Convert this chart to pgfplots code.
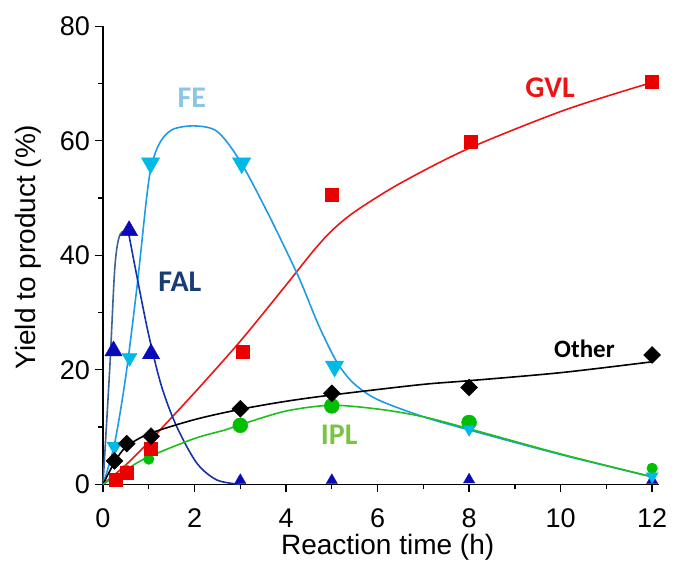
\documentclass[border=0pt]{standalone}
\usepackage{fontspec}
\setmainfont{Liberation Sans}
\newfontfamily\carl{Carlito}
\usepackage{pgfplots}
\pgfplotsset{compat=1.18}
\definecolor{gvl}{RGB}{238,20,20}
\definecolor{gvlmark}{RGB}{235,0,0}
\definecolor{fecurve}{RGB}{30,155,230}
\definecolor{femark}{RGB}{0,185,228}
\definecolor{felab}{RGB}{140,198,228}
\definecolor{falmark}{RGB}{10,10,185}
\definecolor{falcurve}{RGB}{20,50,170}
\definecolor{falrise}{RGB}{60,100,150}
\definecolor{fallab}{RGB}{25,60,115}
\definecolor{iplmark}{RGB}{0,190,0}
\definecolor{iplcurve}{RGB}{30,190,30}
\definecolor{ipllab}{RGB}{125,194,66}
\begin{document}
\begin{tikzpicture}
\path[use as bounding box] (-103pt,-86.7pt) rectangle (573pt,484.3pt);
\begin{axis}[
 scale only axis, width=556pt, height=458pt,
 xmin=0, xmax=12.15, ymin=0, ymax=80,
 axis x line=bottom, axis y line=left,
 axis line style={-, line width=1.3pt},
 xtick={0,2,...,12}, ytick={0,20,...,80},
 minor xtick={1,3,...,11}, minor ytick={10,30,50,70},
 tick align=outside,
 major tick length=8pt, minor tick length=5pt,
 every tick/.style={black, line width=1.3pt},
 tick label style={font=\fontsize{27}{30}\selectfont, inner sep=0pt},
 /pgf/number format/assume math mode=true,
 xticklabel style={anchor=base, yshift=-35pt},
 yticklabel style={anchor=east, xshift=-5pt},
 label style={font=\fontsize{28}{32}\selectfont, inner sep=0pt},
 xlabel={Reaction time (h)}, ylabel={Yield to product (\%)},
 xlabel style={at={(axis description cs:0.512,-0.137)}, anchor=center},
 ylabel style={at={(axis description cs:-0.135,0.518)}, anchor=center, rotate=0},
 clip=false,
]
% fitted curves
\addplot[gvl, line width=1.6pt, smooth] coordinates {(0,0)(0.5,3.4)(1,7.4)(2,16)(3,25)(4,34.8)(4.6,40.8)(5,44.3)(5.5,47.6)(6.5,52.6)(8,58.7)(10.1,65.4)(12,70.2)};
\addplot[fecurve, line width=1.6pt, smooth] coordinates {(0,0)(0.25,7)(0.5,19)(0.75,35)(1,53)(1.2,59)(1.5,61.9)(2,62.6)(2.5,61.6)(3,56.4)(3.6,47.4)(4.27,36.3)(4.7,28)(5.1,21.5)(5.47,17.7)(6,14.8)(7,11.8)(8,9.5)(10,5.2)(12,1.3)};
\addplot[falrise, line width=1.6pt, smooth] coordinates {(0,0)(0.15,20.6)(0.26,38)(0.37,43.6)(0.55,44.3)};
\addplot[falcurve, line width=1.6pt, smooth] coordinates {(0.55,44.3)(0.70,38)(0.99,26.4)(1.28,17.1)(1.61,10.1)(2.05,3.7)(2.49,0.75)(3,0)};
\addplot[black, line width=1.6pt, smooth] coordinates {(0,0)(0.25,3.8)(0.5,6.5)(1,8.8)(2,11.3)(3,13.1)(4,14.5)(5,15.6)(6.93,17.4)(8,18.1)(10,19.5)(12,21.4)};
\addplot[iplcurve, line width=1.6pt, smooth] coordinates {(0,0)(0.55,2.8)(1,4.8)(2,8)(2.67,9.5)(3,10.4)(4,12.8)(5,13.8)(6.05,13.1)(7,11.8)(8,9.7)(10,5.3)(12,1.3)};
% IPL markers
\addplot[only marks, mark=*, mark size=5.3pt, color=iplmark] coordinates {(0.25,1.0)(0.5,2.5)(1,4.4)(12,2.8)};
\addplot[only marks, mark=*, mark size=7.5pt, color=iplmark] coordinates {(3,10.3)(5,13.7)(8,10.8)};
% GVL markers
\addplot[only marks, mark=square*, mark size=6.5pt, color=gvlmark] coordinates {(0.28,0.8)(0.52,2.0)(1.05,6.3)(3.05,23.2)(5,50.5)(8.04,59.9)(12,70.4)};
% FAL markers
\addplot[only marks, mark=triangle*, mark size=10pt, color=falmark] coordinates {(0.23,23.3)(0.57,44.3)(1.05,22.8)};
\addplot[only marks, mark=triangle*, mark size=6.5pt, color=falmark] coordinates {(3,0.7)(5,0.7)(8,0.8)(12,0.7)};
% FE markers
\addplot[only marks, mark=triangle*, mark size=8.6pt, color=femark, mark options={rotate=180}] coordinates {(0.25,6.6)(0.58,22.1)};
\addplot[only marks, mark=triangle*, mark size=10.6pt, color=femark, mark options={rotate=180}] coordinates {(1.04,56.1)(3.03,56.1)(5.06,20.6)};
\addplot[only marks, mark=triangle*, mark size=7pt, color=femark, mark options={rotate=180}] coordinates {(8,9.6)(12,1.4)};
% Other markers
\addplot[only marks, mark=square*, mark size=6pt, color=black, mark options={rotate=45}] coordinates {(0.25,4.1)(0.52,7.1)(1.05,8.4)(3,13.2)(5,15.9)(8,16.9)(12,22.6)};
% labels
\node[felab] at (axis cs:1.94,67.5) {\carl\bfseries\fontsize{30}{36}\selectfont FE};
\node[gvl] at (axis cs:9.77,69.2) {\carl\bfseries\fontsize{30}{36}\selectfont GVL};
\node[fallab] at (axis cs:1.68,35.3) {\carl\bfseries\fontsize{30}{36}\selectfont FAL};
\node[ipllab] at (axis cs:5.16,8.6) {\carl\bfseries\fontsize{30}{36}\selectfont IPL};
\node[black] at (axis cs:10.52,23.7) {\carl\bfseries\fontsize{25}{30}\selectfont Other};
\end{axis}
\end{tikzpicture}
\end{document}
